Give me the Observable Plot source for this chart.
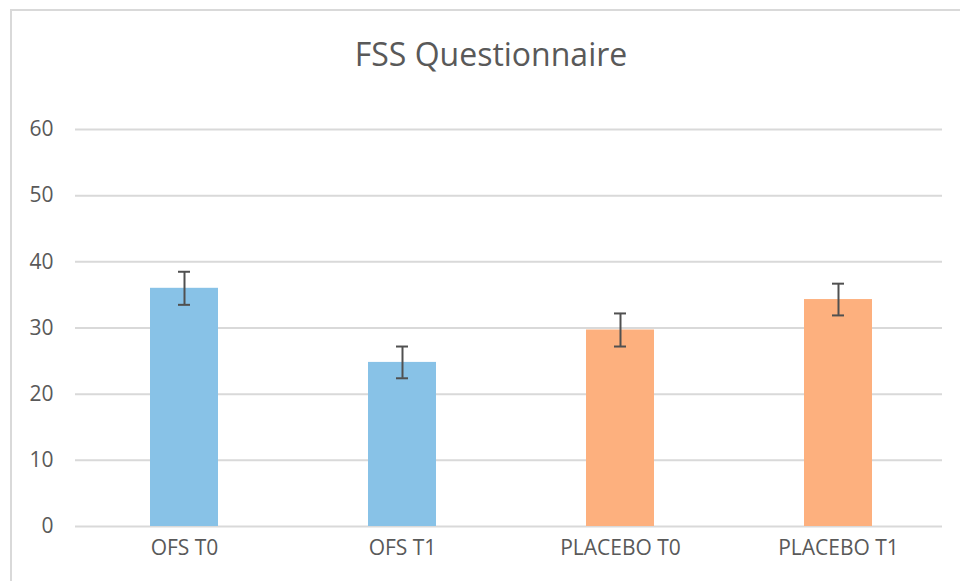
<!DOCTYPE html>
<html>
<head>
<meta charset="utf-8">
<script src="https://cdn.jsdelivr.net/npm/d3@7"></script>
<script src="https://cdn.jsdelivr.net/npm/@observablehq/plot@0.6"></script>
<style>
  html, body { margin: 0; padding: 0; background: #fff; }
  #wrap { position: relative; width: 960px; height: 581px; overflow: hidden; background: #fff; }
  #frame { position: absolute; left: 10px; top: 9px; width: 1000px; height: 700px;
           border-top: 2px solid #d9d9d9; border-left: 2px solid #d9d9d9; }
  #title { position: absolute; left: 10px; width: 962px; top: 33px; text-align: center;
           font-family: "Open Sans", sans-serif; font-size: 32px; line-height: 42px; color: #595959; }
  #chart { position: absolute; left: 0; top: 0; }
</style>
</head>
<body>
<div id="wrap">
  <div id="frame"></div>
  <div id="title">FSS Questionnaire</div>
  <div id="chart"></div>
</div>
<script>
const categories = ["OFS T0", "OFS T1", "PLACEBO T0", "PLACEBO T1"];
const groups = ["OFS", "OFS", "PLACEBO", "PLACEBO"];
const means = [36, 24.8, 29.7, 34.3];
const errors = [2.5, 2.4, 2.5, 2.4];
const yTicks = [0, 10, 20, 30, 40, 50, 60];
const groupNames = ["OFS", "PLACEBO"];
const groupColors = ["#88c2e7", "#fdb07e"];

const data = categories.map((c, i) => ({
  cat: c, group: groups[i], mean: means[i], lo: means[i] - errors[i], hi: means[i] + errors[i]
}));

const chart = Plot.plot({
  width: 960,
  height: 581,
  marginLeft: 75,
  marginRight: 18,
  marginTop: 129,
  marginBottom: 55,
  style: { fontFamily: "Open Sans, sans-serif", fontSize: "21px", color: "#595959", background: "transparent", overflow: "visible" },
  x: { domain: categories, range: [74, 948], paddingInner: 0.686, paddingOuter: 0.343, label: null, tickSize: 0, tickPadding: 14 },
  y: { domain: [0, 60], ticks: yTicks, label: null, tickSize: 0, tickPadding: 22 },
  color: { domain: groupNames, range: groupColors },
  marks: [
    Plot.ruleY(yTicks, { stroke: "#d9d9d9", strokeWidth: 2 }),
    Plot.barY(data, { x: "cat", y: "mean", fill: "group" }),
    Plot.ruleX(data, { x: "cat", y1: "lo", y2: "hi", stroke: "#505050", strokeWidth: 2 }),
    Plot.tickY(data, { x: "cat", y: "lo", stroke: "#505050", strokeWidth: 2, insetLeft: 28, insetRight: 28 }),
    Plot.tickY(data, { x: "cat", y: "hi", stroke: "#505050", strokeWidth: 2, insetLeft: 28, insetRight: 28 })
  ]
});
document.getElementById("chart").appendChild(chart);
</script>
</body>
</html>
